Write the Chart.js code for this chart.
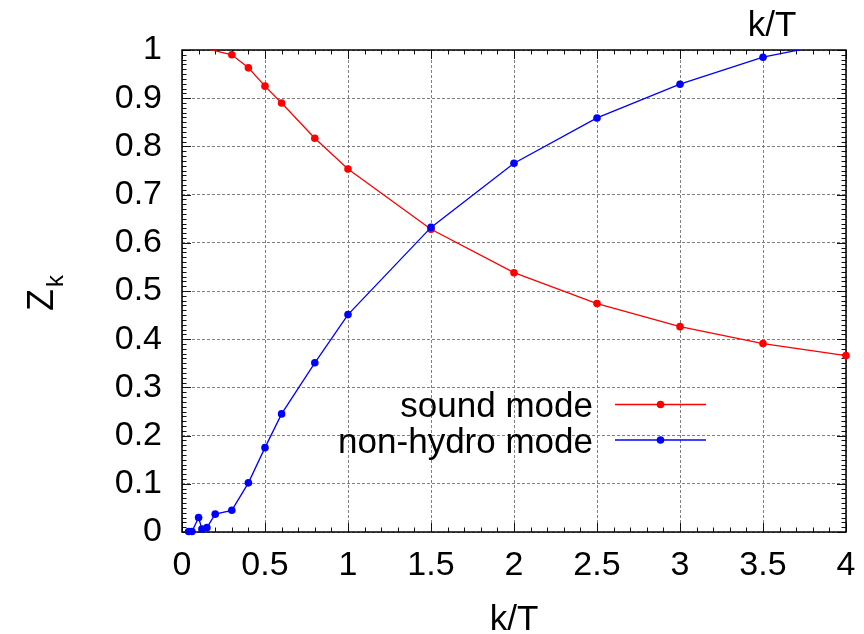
<!DOCTYPE html>
<html><head><meta charset="utf-8">
<script src="https://cdn.jsdelivr.net/npm/chart.js@4.4.0/dist/chart.umd.min.js"></script>
<style>html,body{margin:0;padding:0;background:#fff;overflow:hidden}#wrap{width:864px;height:634px}</style>
</head><body><div id="wrap"><canvas id="c" width="864" height="634"></canvas></div>
<script>
// ---- data ----
const soundX = [0.05, 0.3, 0.4, 0.5, 0.6, 0.8, 1.0, 1.5, 2.0, 2.5, 3.0, 3.5, 4.0];
const soundY = [1.011, 0.99, 0.963, 0.925, 0.89, 0.817, 0.753, 0.628, 0.538, 0.474, 0.426, 0.391, 0.366];
const hydroX = [0.04, 0.06, 0.1, 0.12, 0.15, 0.2, 0.3, 0.4, 0.5, 0.6, 0.8, 1.0, 1.5, 2.0, 2.5, 3.0, 3.5, 4.0];
const hydroY = [0.001, 0.001, 0.03, 0.006, 0.009, 0.037, 0.045, 0.102, 0.175, 0.245, 0.351, 0.451, 0.632, 0.765, 0.859, 0.929, 0.985, 1.02];
const xTicks = [0, 0.5, 1, 1.5, 2, 2.5, 3, 3.5, 4];
const yTicks = [0, 0.1, 0.2, 0.3, 0.4, 0.5, 0.6, 0.7, 0.8, 0.9, 1];
const seriesNames = ['sound mode', 'non-hydro mode'];
const seriesColors = ['#ff0000', '#0000ff'];
const xTitle = 'k/T';
const yTitleMain = 'Z';
const yTitleSub = 'k';

const FONT = '"Liberation Sans", Arial, sans-serif';
const fmt = v => String(Math.round(v * 100) / 100);

const frame = {
  id: 'frame',
  beforeDatasetsDraw(chart) {
    const {ctx, chartArea: a, scales: {x, y}} = chart;
    ctx.save();
    ctx.strokeStyle = '#111';
    ctx.lineWidth = 1;
    ctx.beginPath();
    for (let i = 0; i <= 40; i++) {
      const px = Math.round(x.getPixelForValue(i / 10)) + 0.5;
      const len = (i % 5 === 0) ? 9 : 4.5;
      ctx.moveTo(px, a.bottom); ctx.lineTo(px, a.bottom - len);
      ctx.moveTo(px, a.top); ctx.lineTo(px, a.top + len);
    }
    for (let i = 0; i <= 100; i++) {
      const py = Math.round(y.getPixelForValue(i / 100)) + 0.5;
      const len = (i % 10 === 0) ? 9 : 4.5;
      ctx.moveTo(a.left, py); ctx.lineTo(a.left + len, py);
      ctx.moveTo(a.right, py); ctx.lineTo(a.right - len, py);
    }
    ctx.stroke();
    ctx.lineWidth = 1.5;
    ctx.strokeStyle = '#000';
    ctx.strokeRect(a.left, a.top, a.right - a.left, a.bottom - a.top);
    ctx.restore();
  }
};

const texts = {
  id: 'texts',
  afterDraw(chart) {
    const {ctx} = chart;
    ctx.save();
    ctx.fillStyle = '#000';
    ctx.textBaseline = 'alphabetic';
    ctx.font = '35px ' + FONT;
    ctx.textAlign = 'center';
    ctx.fillText(xTitle, 514, 630);
    ctx.fillText(xTitle, 772, 36);
    ctx.save();
    ctx.translate(53, 311);
    ctx.rotate(-Math.PI / 2);
    ctx.textAlign = 'left';
    ctx.font = '36px ' + FONT;
    ctx.fillText(yTitleMain, 0, 0);
    const w = ctx.measureText(yTitleMain).width;
    ctx.font = '24px ' + FONT;
    ctx.fillText(yTitleSub, w + 2, 10);
    ctx.restore();
    const rows = [404.5, 440];
    chart.data.datasets.forEach((ds, i) => {
      const yy = rows[i];
      ctx.font = '35px ' + FONT;
      ctx.textAlign = 'right';
      ctx.fillStyle = '#000';
      ctx.fillText(seriesNames[i], 593, yy + 12.5);
      ctx.strokeStyle = ds.borderColor;
      ctx.lineWidth = 1.3;
      ctx.beginPath(); ctx.moveTo(615, yy); ctx.lineTo(706, yy); ctx.stroke();
      ctx.fillStyle = ds.borderColor;
      ctx.beginPath(); ctx.arc(660.5, yy, 3.8, 0, Math.PI * 2); ctx.fill();
    });
    ctx.restore();
  }
};

const mk = (xs, ys) => xs.map((v, i) => ({x: v, y: ys[i]}));

new Chart(document.getElementById('c'), {
  type: 'scatter',
  data: {
    datasets: [
      {label: seriesNames[0], data: mk(soundX, soundY), order: 2},
      {label: seriesNames[1], data: mk(hydroX, hydroY), order: 1}
    ].map((d, i) => Object.assign(d, {
      showLine: true, borderColor: seriesColors[i], backgroundColor: seriesColors[i],
      pointBackgroundColor: seriesColors[i], pointBorderWidth: 0, pointRadius: 3.8,
      borderWidth: 1.3, tension: 0, clip: {left: 8, right: 8, top: 0, bottom: 8}
    }))
  },
  options: {
    responsive: false, animation: false, devicePixelRatio: 1,
    layout: {padding: {top: 50, right: 18, left: 0, bottom: 0}},
    plugins: {legend: {display: false}, tooltip: {enabled: false}},
    scales: {
      x: {
        type: 'linear', min: 0, max: 4,
        afterFit(s) { s.height = 102; s.paddingRight = 0; s.paddingLeft = 0; },
        afterBuildTicks(s) { s.ticks = xTicks.map(v => ({value: v})); },
        ticks: {callback: fmt, color: '#000', font: {family: FONT, size: 34}, padding: 13, maxRotation: 0, autoSkip: false},
        grid: {color: '#808080', lineWidth: 1, drawTicks: false},
        border: {display: false, dash: [3, 2]}
      },
      y: {
        type: 'linear', min: 0, max: 1,
        afterFit(s) { s.width = 182; s.paddingTop = 0; s.paddingBottom = 0; },
        afterBuildTicks(s) { s.ticks = yTicks.map(v => ({value: v})); },
        ticks: {callback: fmt, color: '#000', font: {family: FONT, size: 34}, padding: 20, autoSkip: false},
        grid: {color: '#808080', lineWidth: 1, drawTicks: false},
        border: {display: false, dash: [3, 2]}
      }
    }
  },
  plugins: [frame, texts]
});
</script>
</body></html>
